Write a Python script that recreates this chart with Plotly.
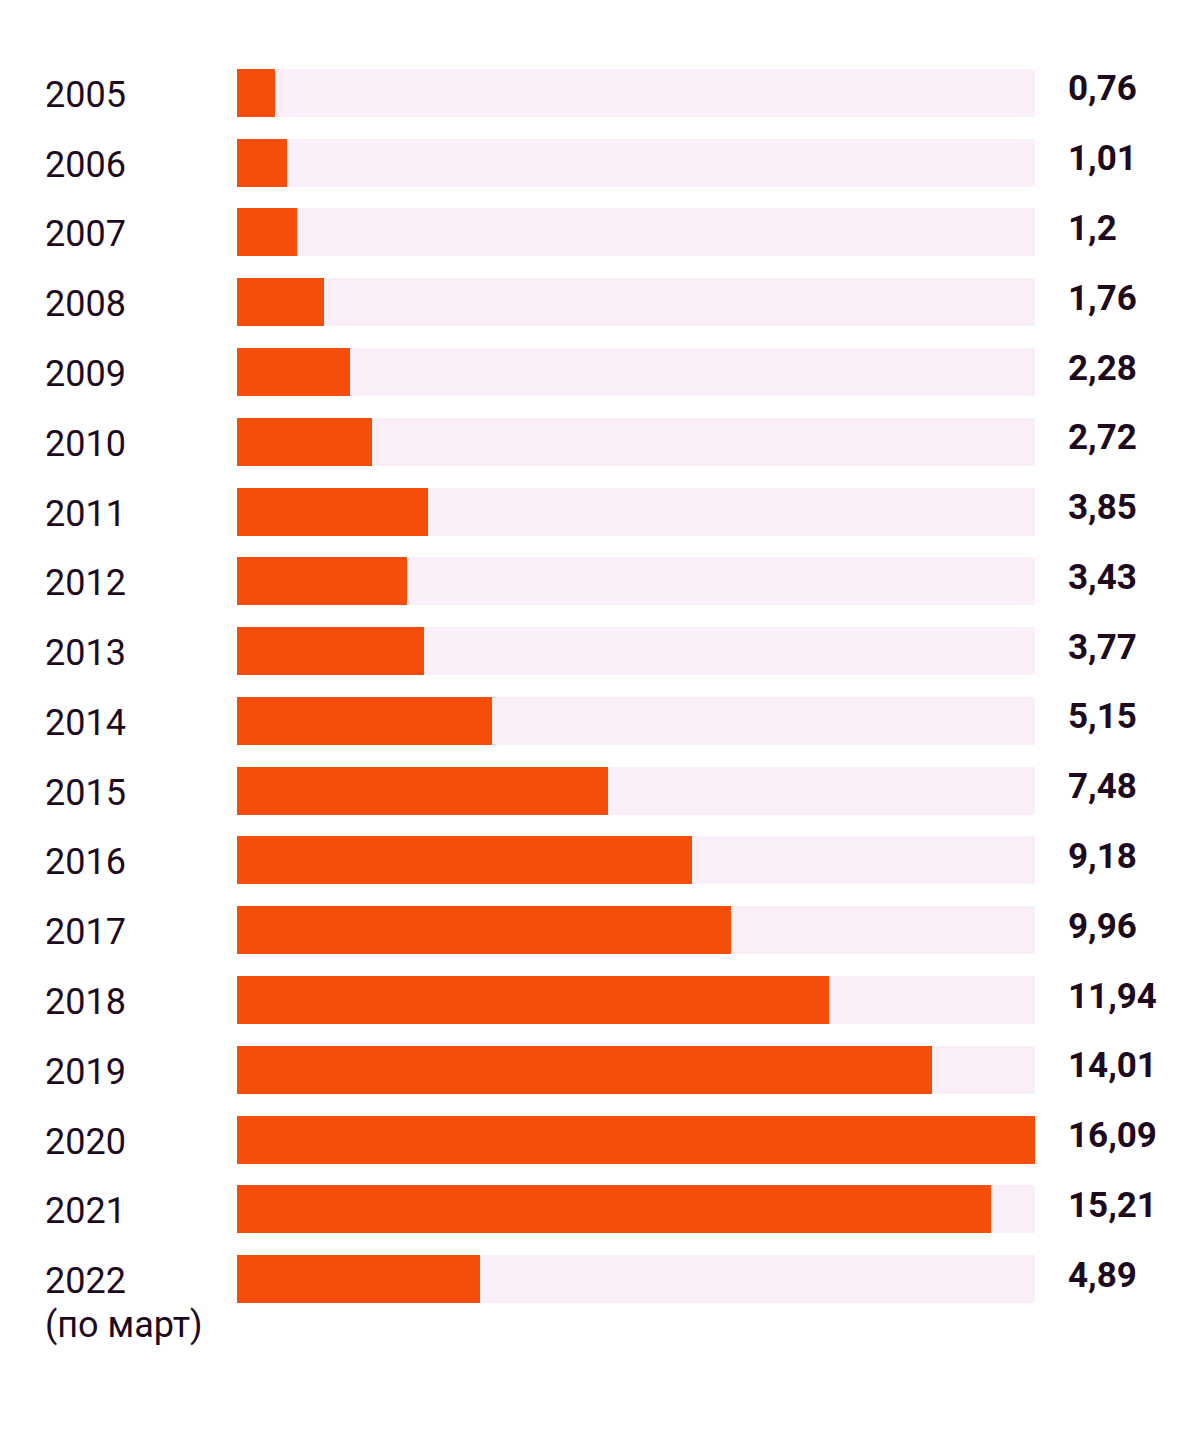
import plotly.graph_objects as go

years = ["2005", "2006", "2007", "2008", "2009", "2010", "2011", "2012", "2013",
         "2014", "2015", "2016", "2017", "2018", "2019", "2020", "2021", "2022"]
year_notes = [""] * 17 + ["(по март)"]
values = [0.76, 1.01, 1.2, 1.76, 2.28, 2.72, 3.85, 3.43, 3.77,
          5.15, 7.48, 9.18, 9.96, 11.94, 14.01, 16.09, 15.21, 4.89]
value_labels = ["0,76", "1,01", "1,2", "1,76", "2,28", "2,72", "3,85", "3,43", "3,77",
                "5,15", "7,48", "9,18", "9,96", "11,94", "14,01", "16,09", "15,21", "4,89"]

W, H = 1199, 1433
OFF = 8  # page body offset
L, R = 237 - OFF, 1035 - OFF
T, B = 58 - OFF, 1314 - OFF
vmax = max(values)
idx = list(range(len(years)))

BAR = "#F54E0A"
BG = "#FAEEF8"
TXT = "#1E0A1E"

fig = go.Figure()
fig.add_trace(go.Bar(y=idx, x=[vmax] * len(idx), orientation="h",
                     marker=dict(color=BG, line=dict(width=0)), width=0.688,
                     hoverinfo="skip", showlegend=False))
fig.add_trace(go.Bar(y=idx, x=values, orientation="h",
                     marker=dict(color=BAR, line=dict(width=0)), width=0.688,
                     showlegend=False))

pw = R - L
ann = []
for i, (yr, note, lab) in enumerate(zip(years, year_notes, value_labels)):
    ann.append(dict(x=(43 - OFF - L) / pw, xref="paper", y=i, yref="y", yshift=-2,
                    text=yr, showarrow=False, xanchor="left", yanchor="middle",
                    font=dict(family="Roboto", size=36, color=TXT)))
    if note:
        ann.append(dict(x=(43 - OFF - L) / pw, xref="paper", y=i, yref="y", yshift=-46,
                        text=note, showarrow=False, xanchor="left", yanchor="middle",
                        font=dict(family="Roboto", size=36, color=TXT)))
    ann.append(dict(x=(1066 - OFF - L) / pw, xref="paper", y=i, yref="y", yshift=4,
                    text="<b>" + lab + "</b>", showarrow=False, xanchor="left",
                    yanchor="middle",
                    font=dict(family="Roboto", size=35, color=TXT)))

fig.update_layout(
    width=W, height=H, autosize=False,
    margin=dict(l=L, r=W - R, t=T, b=H - B, pad=0),
    barmode="overlay", bargap=0,
    plot_bgcolor="white", paper_bgcolor="white",
    xaxis=dict(range=[0, vmax], visible=False, fixedrange=True),
    yaxis=dict(range=[len(idx) - 0.5, -0.5], visible=False, fixedrange=True),
    annotations=ann,
)
fig.write_html("out.html")
